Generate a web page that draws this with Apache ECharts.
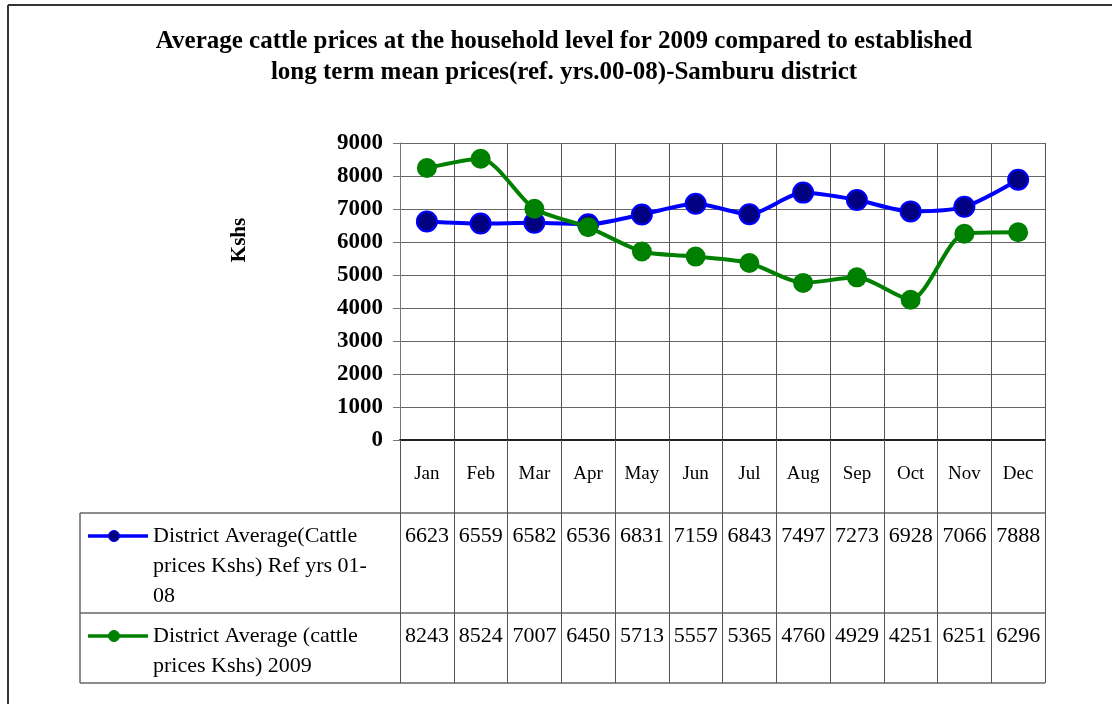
<!DOCTYPE html>
<html>
<head>
<meta charset="utf-8">
<script src="https://cdn.jsdelivr.net/npm/echarts@6/dist/echarts.min.js"></script>
<style>
  html, body { margin: 0; padding: 0; background: #fff; }
  #chart { width: 1112px; height: 704px; }
</style>
</head>
<body>
<div id="chart"></div>
<script>
const months = ['Jan', 'Feb', 'Mar', 'Apr', 'May', 'Jun', 'Jul', 'Aug', 'Sep', 'Oct', 'Nov', 'Dec'];
const refPrices  = [6623, 6559, 6582, 6536, 6831, 7159, 6843, 7497, 7273, 6928, 7066, 7888];
const prices2009 = [8243, 8524, 7007, 6450, 5713, 5557, 5365, 4760, 4929, 4251, 6251, 6296];
const refName  = ['District Average(Cattle', 'prices Kshs) Ref yrs 01-', '08'];
const name2009 = ['District Average (cattle', 'prices Kshs) 2009'];
const titleLines = [
  'Average cattle prices at the household level for 2009 compared to established',
  'long term mean prices(ref. yrs.00-08)-Samburu district'
];

const FONT = '"Liberation Serif", "Times New Roman", serif';
const BLUE = '#0000ff', NAVY = '#000080', GREEN = '#008000';

// layout
const G = { left: 400, top: 143, width: 645, height: 297 };
const tableLeft = 80;
const rowLines = [513, 613, 683];   // bottom of header, row 1, row 2
const axisY = G.top + G.height;

const chart = echarts.init(document.getElementById('chart'), null, { renderer: 'canvas' });

chart.setOption({
  backgroundColor: '#fff',
  animation: false,
  textStyle: { fontFamily: FONT },
  grid: { left: G.left, top: G.top, width: G.width, height: G.height, containLabel: false },
  xAxis: {
    type: 'category',
    data: months,
    boundaryGap: true,
    axisLine:  { lineStyle: { color: '#222', width: 2 } },
    axisTick:  { show: true, length: rowLines[2] - axisY, lineStyle: { color: '#555', width: 1 } },
    axisLabel: { color: '#000', fontSize: 19, fontFamily: FONT, margin: 25 },
    splitLine: { show: true, lineStyle: { color: '#555', width: 1 } },
  },
  yAxis: {
    type: 'value',
    min: 0, max: 9000, interval: 1000,
    axisLine:  { show: true, lineStyle: { color: '#777', width: 1 } },
    axisTick:  { show: true, length: 7, lineStyle: { color: '#777' } },
    axisLabel: { color: '#000', fontSize: 23, fontWeight: 'bold', fontFamily: FONT, margin: 17,
                 formatter: v => String(v) },
    splitLine: { show: true, lineStyle: { color: '#666', width: 1 } },
  },
  series: [
    {
      name: refName.join(' '),
      type: 'line',
      data: refPrices,
      smooth: 0.25,
      symbol: 'circle',
      symbolSize: 20,
      lineStyle: { color: BLUE, width: 4 },
      itemStyle: { color: NAVY, borderColor: BLUE, borderWidth: 2 },
      z: 3,
    },
    {
      name: name2009.join(' '),
      type: 'line',
      data: prices2009,
      smooth: 0.25,
      symbol: 'circle',
      symbolSize: 20,
      lineStyle: { color: GREEN, width: 4 },
      itemStyle: { color: GREEN, borderColor: GREEN, borderWidth: 0 },
      z: 4,
    },
  ],
});

// title, axis name and data table (positions from the axis scale)
const els = [];
const txt = (x, y, text, style, extra) => els.push(Object.assign({
  type: 'text', x, y, silent: true,
  style: Object.assign({ text, fill: '#000', fontFamily: FONT, fontSize: 22 }, style),
}, extra || {}));
const line = (x1, y1, x2, y2, stroke, lineWidth) => els.push({
  type: 'line', silent: true,
  shape: { x1, y1, x2, y2 }, style: { stroke, lineWidth },
});

// outer frame (top and left only are visible)
line(8, 5, 1112, 5, '#333', 2);
line(8, 5, 8, 704, '#333', 2);

titleLines.forEach((t, i) => txt(564, 42 + i * 31, t,
  { fontSize: 25, fontWeight: 'bold', align: 'center', verticalAlign: 'middle' }));

txt(240, 240, 'Kshs', { fontSize: 21, fontWeight: 'bold', align: 'center', verticalAlign: 'middle' },
  { rotation: Math.PI / 2 });

// table rules
rowLines.forEach(y => line(tableLeft, y, G.left + G.width, y, '#666', 1.5));
line(tableLeft, rowLines[0], tableLeft, rowLines[2], '#666', 1.5);

// row headers with legend keys
function rowHead(top, lines, lineColor, fill) {
  const cy = top + 23;
  line(88, cy, 148, cy, lineColor, 3.5);
  els.push({ type: 'circle', silent: true, shape: { cx: 114, cy, r: 5.5 },
    style: { fill, stroke: lineColor, lineWidth: 1 } });
  lines.forEach((t, i) => txt(153, cy + i * 30, t, { align: 'left', verticalAlign: 'middle' }));
}
rowHead(rowLines[0], refName, BLUE, NAVY);
rowHead(rowLines[1], name2009, GREEN, GREEN);

// table values
months.forEach((m, i) => {
  const x = chart.convertToPixel({ xAxisIndex: 0 }, i);
  txt(x, rowLines[0] + 23, String(refPrices[i]), { align: 'center', verticalAlign: 'middle' });
  txt(x, rowLines[1] + 23, String(prices2009[i]), { align: 'center', verticalAlign: 'middle' });
});

chart.setOption({ graphic: { elements: els } });
</script>
</body>
</html>
